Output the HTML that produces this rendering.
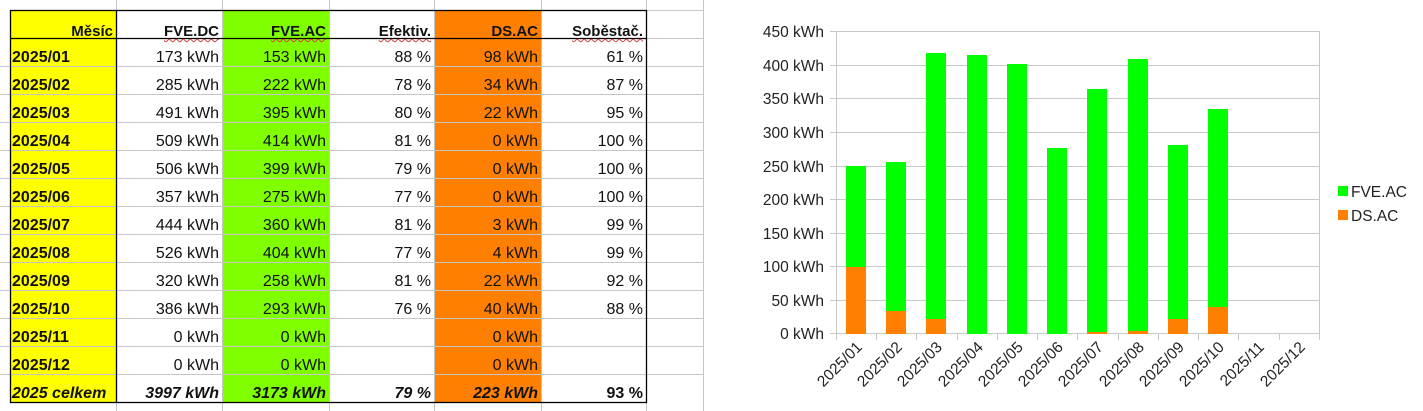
<!DOCTYPE html>
<html><head><meta charset="utf-8"><style>
*{margin:0;padding:0;box-sizing:border-box}
body{width:1423px;height:411px;background:#fff;position:relative;overflow:hidden;font-family:"Liberation Sans",sans-serif}
.bg{position:absolute}
.c{position:absolute;height:28px;line-height:30px;font-size:16px;text-align:right;padding-right:3px;white-space:nowrap;color:#111}
.h{font-weight:bold;font-size:15px;line-height:44px;height:28px}
.w{text-decoration:underline wavy #d04040;text-decoration-thickness:1px;text-underline-offset:2px}
.m{text-align:left;padding-left:2px;font-weight:bold}
.t{font-weight:bold;font-style:italic}
svg{position:absolute;left:0;top:0}
</style></head><body>
<div class="bg" style="left:10px;top:10px;width:106px;height:392px;background:#ffff00"></div>
<div class="bg" style="left:222px;top:10px;width:107px;height:392px;background:#80ff00"></div>
<div class="bg" style="left:434px;top:10px;width:107px;height:392px;background:#ff8000"></div>
<svg width="1423" height="411">
<g stroke="#c6c6c6" stroke-width="1">
<line x1="116.5" y1="0" x2="116.5" y2="411"/><line x1="222.5" y1="0" x2="222.5" y2="411"/>
<line x1="329.5" y1="0" x2="329.5" y2="411"/><line x1="434.5" y1="0" x2="434.5" y2="411"/>
<line x1="541.5" y1="0" x2="541.5" y2="411"/><line x1="646.5" y1="0" x2="646.5" y2="411"/>
<line x1="703.5" y1="0" x2="703.5" y2="411"/>
<line x1="0" y1="66.5" x2="703" y2="66.5"/><line x1="0" y1="94.5" x2="703" y2="94.5"/>
<line x1="0" y1="122.5" x2="703" y2="122.5"/><line x1="0" y1="150.5" x2="703" y2="150.5"/>
<line x1="0" y1="178.5" x2="703" y2="178.5"/><line x1="0" y1="206.5" x2="703" y2="206.5"/>
<line x1="0" y1="234.5" x2="703" y2="234.5"/><line x1="0" y1="262.5" x2="703" y2="262.5"/>
<line x1="0" y1="290.5" x2="703" y2="290.5"/><line x1="0" y1="318.5" x2="703" y2="318.5"/>
<line x1="0" y1="346.5" x2="703" y2="346.5"/><line x1="0" y1="374.5" x2="703" y2="374.5"/>
<line x1="646" y1="10.5" x2="703" y2="10.5"/><line x1="646" y1="38.5" x2="703" y2="38.5"/>
</g>
<g stroke="#000" stroke-width="1.3" fill="none">
<rect x="10.5" y="10.5" width="636" height="392"/>
<line x1="10" y1="38.5" x2="646" y2="38.5"/>
<line x1="116.5" y1="10" x2="116.5" y2="402"/>
</g>
<g stroke="#c8c8c8" stroke-width="1">
<line x1="830" y1="31.5" x2="1319" y2="31.5"/><line x1="830" y1="65.5" x2="1319" y2="65.5"/>
<line x1="830" y1="98.5" x2="1319" y2="98.5"/><line x1="830" y1="132.5" x2="1319" y2="132.5"/>
<line x1="830" y1="166.5" x2="1319" y2="166.5"/><line x1="830" y1="199.5" x2="1319" y2="199.5"/>
<line x1="830" y1="233.5" x2="1319" y2="233.5"/><line x1="830" y1="266.5" x2="1319" y2="266.5"/>
<line x1="830" y1="300.5" x2="1319" y2="300.5"/><line x1="830" y1="333.5" x2="1319" y2="333.5"/>
<line x1="836.5" y1="31" x2="836.5" y2="334"/>
<line x1="1319.5" y1="31" x2="1319.5" y2="334"/>
</g>
<g stroke="#c8c8c8"><line x1="836.5" y1="334" x2="836.5" y2="340"/><line x1="876.5" y1="334" x2="876.5" y2="340"/><line x1="916.5" y1="334" x2="916.5" y2="340"/><line x1="957.5" y1="334" x2="957.5" y2="340"/><line x1="997.5" y1="334" x2="997.5" y2="340"/><line x1="1037.5" y1="334" x2="1037.5" y2="340"/><line x1="1077.5" y1="334" x2="1077.5" y2="340"/><line x1="1118.5" y1="334" x2="1118.5" y2="340"/><line x1="1158.5" y1="334" x2="1158.5" y2="340"/><line x1="1198.5" y1="334" x2="1198.5" y2="340"/><line x1="1238.5" y1="334" x2="1238.5" y2="340"/><line x1="1279.5" y1="334" x2="1279.5" y2="340"/><line x1="1319.5" y1="334" x2="1319.5" y2="340"/></g>
<g font-family="Liberation Sans,sans-serif" font-size="15.5" fill="#222" text-anchor="end">
<text x="824" y="37">450 kWh</text><text x="824" y="71">400 kWh</text><text x="824" y="104">350 kWh</text>
<text x="824" y="138">300 kWh</text><text x="824" y="172">250 kWh</text><text x="824" y="205">200 kWh</text>
<text x="824" y="239">150 kWh</text><text x="824" y="272">100 kWh</text><text x="824" y="306">50 kWh</text>
<text x="824" y="339">0 kWh</text>
</g>
<g>
<rect x="846" y="166" width="20" height="101" fill="#00ff00"/><rect x="846" y="267" width="20" height="67" fill="#ff7f00"/>
<rect x="886" y="162" width="20" height="149" fill="#00ff00"/><rect x="886" y="311" width="20" height="23" fill="#ff7f00"/>
<rect x="926" y="53" width="20" height="266" fill="#00ff00"/><rect x="926" y="319" width="20" height="15" fill="#ff7f00"/>
<rect x="967" y="55" width="20" height="279" fill="#00ff00"/>
<rect x="1007" y="64" width="20" height="270" fill="#00ff00"/>
<rect x="1047" y="148" width="20" height="186" fill="#00ff00"/>
<rect x="1087" y="89" width="20" height="243" fill="#00ff00"/><rect x="1087" y="332" width="20" height="2" fill="#ff7f00"/>
<rect x="1128" y="59" width="20" height="272" fill="#00ff00"/><rect x="1128" y="331" width="20" height="3" fill="#ff7f00"/>
<rect x="1168" y="145" width="20" height="174" fill="#00ff00"/><rect x="1168" y="319" width="20" height="15" fill="#ff7f00"/>
<rect x="1208" y="109" width="20" height="198" fill="#00ff00"/><rect x="1208" y="307" width="20" height="27" fill="#ff7f00"/>
</g>
<g font-family="Liberation Sans,sans-serif" font-size="15.5" fill="#222" text-anchor="end">
<text transform="translate(863,348) rotate(-45)">2025/01</text>
<text transform="translate(903,348) rotate(-45)">2025/02</text>
<text transform="translate(943,348) rotate(-45)">2025/03</text>
<text transform="translate(984,348) rotate(-45)">2025/04</text>
<text transform="translate(1024,348) rotate(-45)">2025/05</text>
<text transform="translate(1064,348) rotate(-45)">2025/06</text>
<text transform="translate(1104,348) rotate(-45)">2025/07</text>
<text transform="translate(1145,348) rotate(-45)">2025/08</text>
<text transform="translate(1185,348) rotate(-45)">2025/09</text>
<text transform="translate(1225,348) rotate(-45)">2025/10</text>
<text transform="translate(1265,348) rotate(-45)">2025/11</text>
<text transform="translate(1306,348) rotate(-45)">2025/12</text>
</g>
<rect x="1338" y="186" width="10" height="10" fill="#00ff00"/>
<rect x="1338" y="210" width="10" height="10" fill="#ff7f00"/>
<g font-family="Liberation Sans,sans-serif" font-size="15.5" fill="#222">
<text x="1351" y="197">FVE.AC</text><text x="1351" y="221">DS.AC</text>
</g>
</svg>
<div class="c h" style="left:10px;top:10px;width:106px">Měsíc</div>
<div class="c h" style="left:116px;top:10px;width:106px"><span class="w">FVE.DC</span></div>
<div class="c h" style="left:222px;top:10px;width:107px"><span class="w">FVE.AC</span></div>
<div class="c h" style="left:329px;top:10px;width:105px"><span class="w">Efektiv.</span></div>
<div class="c h" style="left:434px;top:10px;width:107px">DS.AC</div>
<div class="c h" style="left:541px;top:10px;width:105px"><span class="w">Soběstač.</span></div>
<div style="position:absolute;left:0;top:0">
<div class="c m" style="left:10px;top:43px;width:106px">2025/01</div><div class="c" style="left:116px;top:43px;width:106px">173 kWh</div><div class="c" style="left:222px;top:43px;width:107px">153 kWh</div><div class="c" style="left:329px;top:43px;width:105px">88 %</div><div class="c" style="left:434px;top:43px;width:107px">98 kWh</div><div class="c" style="left:541px;top:43px;width:105px">61 %</div>
<div class="c m" style="left:10px;top:71px;width:106px">2025/02</div><div class="c" style="left:116px;top:71px;width:106px">285 kWh</div><div class="c" style="left:222px;top:71px;width:107px">222 kWh</div><div class="c" style="left:329px;top:71px;width:105px">78 %</div><div class="c" style="left:434px;top:71px;width:107px">34 kWh</div><div class="c" style="left:541px;top:71px;width:105px">87 %</div>
<div class="c m" style="left:10px;top:99px;width:106px">2025/03</div><div class="c" style="left:116px;top:99px;width:106px">491 kWh</div><div class="c" style="left:222px;top:99px;width:107px">395 kWh</div><div class="c" style="left:329px;top:99px;width:105px">80 %</div><div class="c" style="left:434px;top:99px;width:107px">22 kWh</div><div class="c" style="left:541px;top:99px;width:105px">95 %</div>
<div class="c m" style="left:10px;top:127px;width:106px">2025/04</div><div class="c" style="left:116px;top:127px;width:106px">509 kWh</div><div class="c" style="left:222px;top:127px;width:107px">414 kWh</div><div class="c" style="left:329px;top:127px;width:105px">81 %</div><div class="c" style="left:434px;top:127px;width:107px">0 kWh</div><div class="c" style="left:541px;top:127px;width:105px">100 %</div>
<div class="c m" style="left:10px;top:155px;width:106px">2025/05</div><div class="c" style="left:116px;top:155px;width:106px">506 kWh</div><div class="c" style="left:222px;top:155px;width:107px">399 kWh</div><div class="c" style="left:329px;top:155px;width:105px">79 %</div><div class="c" style="left:434px;top:155px;width:107px">0 kWh</div><div class="c" style="left:541px;top:155px;width:105px">100 %</div>
<div class="c m" style="left:10px;top:183px;width:106px">2025/06</div><div class="c" style="left:116px;top:183px;width:106px">357 kWh</div><div class="c" style="left:222px;top:183px;width:107px">275 kWh</div><div class="c" style="left:329px;top:183px;width:105px">77 %</div><div class="c" style="left:434px;top:183px;width:107px">0 kWh</div><div class="c" style="left:541px;top:183px;width:105px">100 %</div>
<div class="c m" style="left:10px;top:211px;width:106px">2025/07</div><div class="c" style="left:116px;top:211px;width:106px">444 kWh</div><div class="c" style="left:222px;top:211px;width:107px">360 kWh</div><div class="c" style="left:329px;top:211px;width:105px">81 %</div><div class="c" style="left:434px;top:211px;width:107px">3 kWh</div><div class="c" style="left:541px;top:211px;width:105px">99 %</div>
<div class="c m" style="left:10px;top:239px;width:106px">2025/08</div><div class="c" style="left:116px;top:239px;width:106px">526 kWh</div><div class="c" style="left:222px;top:239px;width:107px">404 kWh</div><div class="c" style="left:329px;top:239px;width:105px">77 %</div><div class="c" style="left:434px;top:239px;width:107px">4 kWh</div><div class="c" style="left:541px;top:239px;width:105px">99 %</div>
<div class="c m" style="left:10px;top:267px;width:106px">2025/09</div><div class="c" style="left:116px;top:267px;width:106px">320 kWh</div><div class="c" style="left:222px;top:267px;width:107px">258 kWh</div><div class="c" style="left:329px;top:267px;width:105px">81 %</div><div class="c" style="left:434px;top:267px;width:107px">22 kWh</div><div class="c" style="left:541px;top:267px;width:105px">92 %</div>
<div class="c m" style="left:10px;top:295px;width:106px">2025/10</div><div class="c" style="left:116px;top:295px;width:106px">386 kWh</div><div class="c" style="left:222px;top:295px;width:107px">293 kWh</div><div class="c" style="left:329px;top:295px;width:105px">76 %</div><div class="c" style="left:434px;top:295px;width:107px">40 kWh</div><div class="c" style="left:541px;top:295px;width:105px">88 %</div>
<div class="c m" style="left:10px;top:323px;width:106px">2025/11</div><div class="c" style="left:116px;top:323px;width:106px">0 kWh</div><div class="c" style="left:222px;top:323px;width:107px">0 kWh</div><div class="c" style="left:434px;top:323px;width:107px">0 kWh</div>
<div class="c m" style="left:10px;top:351px;width:106px">2025/12</div><div class="c" style="left:116px;top:351px;width:106px">0 kWh</div><div class="c" style="left:222px;top:351px;width:107px">0 kWh</div><div class="c" style="left:434px;top:351px;width:107px">0 kWh</div>
<div class="c m t" style="left:10px;top:379px;width:106px">2025 celkem</div><div class="c t" style="left:116px;top:379px;width:106px">3997 kWh</div><div class="c t" style="left:222px;top:379px;width:107px">3173 kWh</div><div class="c t" style="left:329px;top:379px;width:105px">79 %</div><div class="c t" style="left:434px;top:379px;width:107px">223 kWh</div><div class="c" style="left:541px;top:379px;width:105px;font-weight:bold">93 %</div>
</div>
</body></html>
